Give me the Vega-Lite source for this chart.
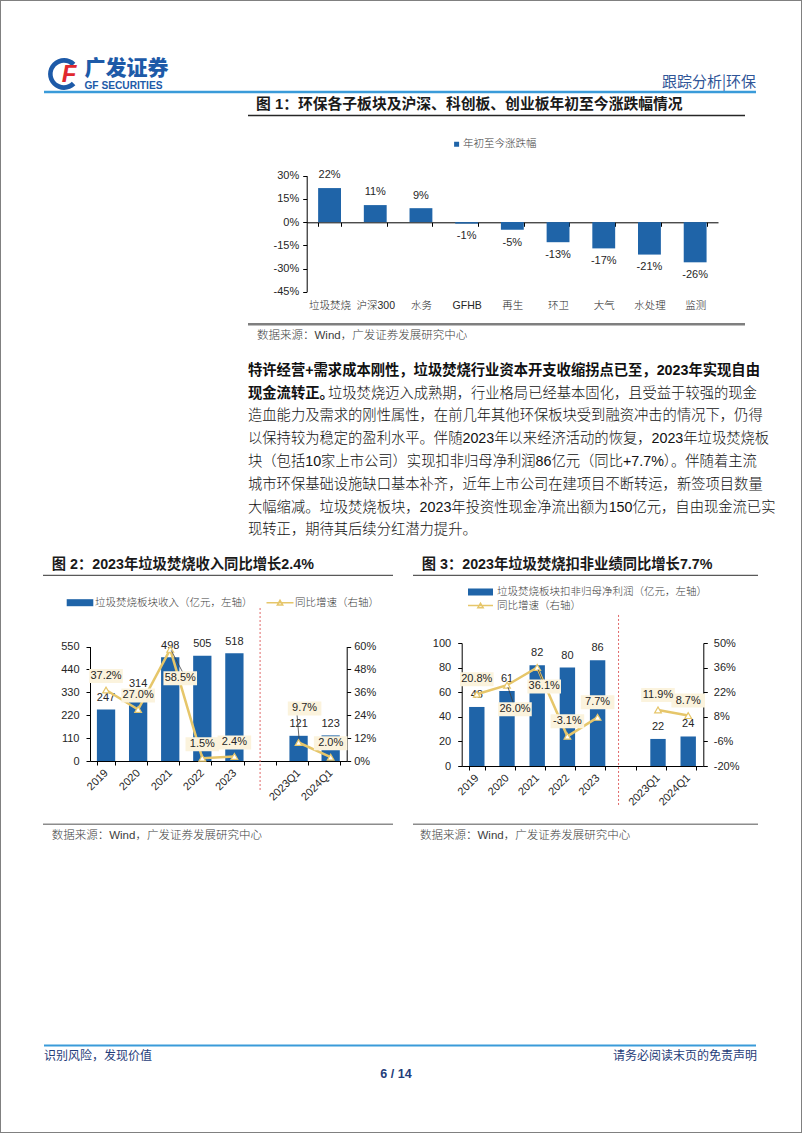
{
"$schema": "https://vega.github.io/schema/vega-lite/v6.json",
"width": 802,
"height": 1133,
"autosize": {"type": "none"},
"padding": 0,
"background": "#ffffff",
"config": {
  "view": {"stroke": "#808080", "strokeWidth": 2},
  "locale": {"number": {"decimal": ".", "thousands": ",", "grouping": [3], "currency": ["", ""], "minus": "-"}},
  "axis": {"domainColor": "#000000", "tickColor": "#000000", "labelColor": "#262626", "labelFont": "Liberation Sans", "labelFontSize": 11, "grid": false},
  "legend": {"padding": 0, "labelFont": "Noto Sans CJK SC", "labelFontSize": 10.5, "labelFontWeight": 300, "labelColor": "#404040", "labelLimit": 500}
},
"datasets": {
  "c1": [
    {"cat": "垃圾焚烧", "v": 0.22}, {"cat": "沪深300", "v": 0.11}, {"cat": "水务", "v": 0.09},
    {"cat": "GFHB", "v": -0.01}, {"cat": "再生", "v": -0.05}, {"cat": "环卫", "v": -0.13},
    {"cat": "大气", "v": -0.17}, {"cat": "水处理", "v": -0.21}, {"cat": "监测", "v": -0.26}],
  "c2": [
    {"p": "2019", "rev": 247, "yoy": 0.372, "g": "年度"},
    {"p": "2020", "rev": 314, "yoy": 0.270, "g": "年度"},
    {"p": "2021", "rev": 498, "yoy": 0.585, "g": "年度"},
    {"p": "2022", "rev": 505, "yoy": 0.015, "g": "年度"},
    {"p": "2023", "rev": 518, "yoy": 0.024, "g": "年度"},
    {"p": "2023Q1", "rev": 121, "yoy": 0.097, "g": "季度"},
    {"p": "2024Q1", "rev": 123, "yoy": 0.020, "g": "季度"}],
  "c3": [
    {"p": "2019", "np": 48, "yoy": 0.208, "g": "年度"},
    {"p": "2020", "np": 61, "yoy": 0.260, "g": "年度"},
    {"p": "2021", "np": 82, "yoy": 0.361, "g": "年度"},
    {"p": "2022", "np": 80, "yoy": -0.031, "g": "年度"},
    {"p": "2023", "np": 86, "yoy": 0.077, "g": "年度"},
    {"p": "2023Q1", "np": 22, "yoy": 0.119, "g": "季度"},
    {"p": "2024Q1", "np": 24, "yoy": 0.087, "g": "季度"}],
  "para": [
    {"line": 1, "seg": 1, "text": "特许经营+需求成本刚性，垃圾焚烧行业资本开支收缩拐点已至，2023年实现自由"},
    {"line": 2, "seg": 1, "text": "现金流转正。"},
    {"line": 2, "seg": 2, "text": "垃圾焚烧迈入成熟期，行业格局已经基本固化，且受益于较强的现金"},
    {"line": 3, "seg": 2, "text": "造血能力及需求的刚性属性，在前几年其他环保板块受到融资冲击的情况下，仍得"},
    {"line": 4, "seg": 2, "text": "以保持较为稳定的盈利水平。伴随2023年以来经济活动的恢复，2023年垃圾焚烧板"},
    {"line": 5, "seg": 2, "text": "块（包括10家上市公司）实现扣非归母净利润86亿元（同比+7.7%）。伴随着主流"},
    {"line": 6, "seg": 2, "text": "城市环保基础设施缺口基本补齐，近年上市公司在建项目不断转运，新签项目数量"},
    {"line": 7, "seg": 2, "text": "大幅缩减。垃圾焚烧板块，2023年投资性现金净流出额为150亿元，自由现金流已实"},
    {"line": 8, "seg": 2, "text": "现转正，期待其后续分红潜力提升。"}]
},
"layer": [
  {"data": {"values": [{"k": "logo"}]}, "mark": {"type": "point", "shape": "M0.71,-0.71A1,1,0,1,0,0.71,0.71L0.49,0.49A0.7,0.7,0,1,1,0.49,-0.49Z", "filled": true, "fill": "#1D5AA8", "strokeWidth": 0, "size": 1024, "opacity": 1}, "encoding": {"x": {"value": 64}, "y": {"value": 74}}},
  {"data": {"values": [{"t": "F"}]}, "mark": {"type": "text", "align": "center", "baseline": "middle", "font": "Liberation Sans", "fontSize": 24, "fontWeight": "bold", "fontStyle": "italic", "color": "#E0282E"}, "encoding": {"x": {"value": 69}, "y": {"value": 75}, "text": {"field": "t", "type": "nominal"}}},
  {"data": {"values": [{"t": "广发证券"}]}, "mark": {"type": "text", "align": "left", "baseline": "middle", "font": "Noto Sans CJK SC", "fontSize": 21, "fontWeight": 900, "color": "#1D5AA8"}, "encoding": {"x": {"value": 84.4}, "y": {"value": 69}, "text": {"field": "t", "type": "nominal"}}},
  {"data": {"values": [{"t": "GF SECURITIES"}]}, "mark": {"type": "text", "align": "left", "baseline": "middle", "font": "Liberation Sans", "fontSize": 10.2, "fontWeight": "bold", "color": "#1D5AA8"}, "encoding": {"x": {"value": 84.4}, "y": {"value": 86}, "text": {"field": "t", "type": "nominal"}}},
  {"data": {"values": [{"t": "跟踪分析|环保"}]}, "mark": {"type": "text", "align": "right", "baseline": "middle", "font": "Noto Sans CJK SC", "fontSize": 15, "color": "#2F5597"}, "encoding": {"x": {"value": 756}, "y": {"value": 81.7}, "text": {"field": "t", "type": "nominal"}}},
  {"data": {"values": [{}]}, "mark": {"type": "rule", "color": "#3A9BD9", "strokeWidth": 2.5}, "encoding": {"x": {"value": 44}, "x2": {"value": 756}, "y": {"value": 92}}},

  {"data": {"values": [{"t": "图 1：环保各子板块及沪深、科创板、创业板年初至今涨跌幅情况"}]}, "mark": {"type": "text", "align": "left", "baseline": "middle", "font": "Liberation Sans, Noto Sans CJK SC", "fontSize": 14.8, "fontWeight": "bold", "color": "#1a1a1a"}, "encoding": {"x": {"value": 256}, "y": {"value": 104.5}, "text": {"field": "t", "type": "nominal"}}},
  {"data": {"values": [{}]}, "mark": {"type": "rule", "color": "#262626", "strokeWidth": 1.3}, "encoding": {"x": {"value": 248}, "x2": {"value": 745}, "y": {"value": 115.5}}},
  {"data": {"values": [{}]}, "mark": {"type": "rule", "color": "#7F7F7F", "strokeWidth": 2.5}, "encoding": {"x": {"value": 248}, "x2": {"value": 745}, "y": {"value": 324.3}}},
  {"data": {"values": [{"t": "数据来源：Wind，广发证券发展研究中心"}]}, "mark": {"type": "text", "align": "left", "baseline": "middle", "font": "Liberation Sans, Noto Sans CJK SC", "fontSize": 11.5, "fontWeight": 300, "color": "#404040"}, "encoding": {"x": {"value": 257}, "y": {"value": 336.4}, "text": {"field": "t", "type": "nominal"}}},

  {"data": {"name": "c1"}, "mark": {"type": "bar", "color": "#1F64A8"},
   "encoding": {
    "x": {"field": "cat", "type": "nominal", "scale": {"domain": ["垃圾焚烧","沪深300","水务","GFHB","再生","环卫","大气","水处理","监测"], "range": [306.7, 718], "paddingInner": 0.5, "paddingOuter": 0.25}, "axis": null},
    "y": {"field": "v", "type": "quantitative", "scale": {"domain": [-0.45, 0.3], "range": [291.7, 175.7], "nice": false, "zero": false}, "axis": null},
    "y2": {"datum": 0},
    "color": {"datum": "年初至今涨跌幅", "type": "nominal", "scale": {"range": ["#1F64A8"]}, "legend": {"orient": "none", "legendX": 451.35, "legendY": 139, "title": null, "symbolType": "square", "symbolSize": 25, "symbolStrokeWidth": 0, "labelOffset": 1.2}}
   }},
  {"data": {"name": "c1"}, "transform": [{"filter": "datum.v >= 0"}],
   "mark": {"type": "text", "dy": -12.6, "baseline": "middle", "font": "Liberation Sans", "fontSize": 11, "color": "#262626"},
   "encoding": {
    "x": {"field": "cat", "type": "nominal", "scale": {"domain": ["垃圾焚烧","沪深300","水务","GFHB","再生","环卫","大气","水处理","监测"], "range": [306.7, 718], "paddingInner": 0.5, "paddingOuter": 0.25}, "axis": {"orient": "bottom", "offset": -835, "labels": true, "ticks": false, "tickSize": 0, "domain": false, "labelPadding": 2, "labelAngle": 0, "labelFont": "Liberation Sans, Noto Sans CJK SC", "labelFontSize": 10.5, "labelFontWeight": 300, "title": null}},
    "y": {"field": "v", "type": "quantitative", "scale": {"domain": [-0.45, 0.3], "range": [291.7, 175.7], "nice": false, "zero": false}, "axis": {"orient": "left", "offset": -306.7, "values": [-0.45, -0.3, -0.15, 0, 0.15, 0.3], "format": ".0%", "tickSize": 4, "labelPadding": 4, "title": null}},
    "text": {"field": "v", "type": "quantitative", "format": ".0%"}
   }},
  {"data": {"name": "c1"}, "transform": [{"filter": "datum.v < 0"}],
   "mark": {"type": "text", "dy": 12.8, "baseline": "middle", "font": "Liberation Sans", "fontSize": 11, "color": "#262626"},
   "encoding": {
    "x": {"field": "cat", "type": "nominal", "scale": {"domain": ["垃圾焚烧","沪深300","水务","GFHB","再生","环卫","大气","水处理","监测"], "range": [306.7, 718], "paddingInner": 0.5, "paddingOuter": 0.25}, "axis": {"orient": "bottom", "offset": -910.7, "labels": false, "ticks": true, "tickSize": 4, "tickBand": "extent", "domain": true, "title": null}},
    "y": {"field": "v", "type": "quantitative", "scale": {"domain": [-0.45, 0.3], "range": [291.7, 175.7], "nice": false, "zero": false}, "axis": null},
    "text": {"field": "v", "type": "quantitative", "format": ".0%"}
   }},

  {"data": {"name": "para"}, "transform": [{"filter": "datum.seg == 1"}], "mark": {"type": "text", "align": "left", "baseline": "middle", "font": "Liberation Sans, Noto Sans CJK SC", "fontSize": 14.3, "fontWeight": "bold", "color": "#111111"},
   "encoding": {"x": {"value": 248}, "y": {"field": "line", "type": "quantitative", "scale": {"domain": [1, 8], "range": [370.7, 530.3], "nice": false, "zero": false}, "axis": null}, "text": {"field": "text", "type": "nominal"}}},
  {"data": {"name": "para"}, "transform": [{"filter": "datum.seg == 2 && datum.line > 2"}], "mark": {"type": "text", "align": "left", "baseline": "middle", "font": "Liberation Sans, Noto Sans CJK SC", "fontSize": 14.3, "fontWeight": 300, "color": "#111111"},
   "encoding": {"x": {"value": 248}, "y": {"field": "line", "type": "quantitative", "scale": {"domain": [1, 8], "range": [370.7, 530.3], "nice": false, "zero": false}, "axis": null}, "text": {"field": "text", "type": "nominal"}}},
  {"data": {"name": "para"}, "transform": [{"filter": "datum.seg == 2 && datum.line == 2"}], "mark": {"type": "text", "align": "left", "baseline": "middle", "font": "Liberation Sans, Noto Sans CJK SC", "fontSize": 14.3, "fontWeight": 300, "color": "#111111"},
   "encoding": {"x": {"value": 328}, "y": {"field": "line", "type": "quantitative", "scale": {"domain": [1, 8], "range": [370.7, 530.3], "nice": false, "zero": false}, "axis": null}, "text": {"field": "text", "type": "nominal"}}},

  {"data": {"values": [{"t": "图 2：2023年垃圾焚烧收入同比增长2.4%"}]}, "mark": {"type": "text", "align": "left", "baseline": "middle", "font": "Liberation Sans, Noto Sans CJK SC", "fontSize": 14.3, "fontWeight": "bold", "color": "#1a1a1a"}, "encoding": {"x": {"value": 51.7}, "y": {"value": 565}, "text": {"field": "t", "type": "nominal"}}},
  {"data": {"values": [{}]}, "mark": {"type": "rule", "color": "#595959", "strokeWidth": 1.3}, "encoding": {"x": {"value": 43}, "x2": {"value": 393}, "y": {"value": 575.3}}},
  {"data": {"values": [{}]}, "mark": {"type": "rule", "color": "#8C8C8C", "strokeWidth": 1.5}, "encoding": {"x": {"value": 43}, "x2": {"value": 393}, "y": {"value": 824.3}}},
  {"data": {"values": [{"t": "数据来源：Wind，广发证券发展研究中心"}]}, "mark": {"type": "text", "align": "left", "baseline": "middle", "font": "Liberation Sans, Noto Sans CJK SC", "fontSize": 11.5, "fontWeight": 300, "color": "#404040"}, "encoding": {"x": {"value": 51.7}, "y": {"value": 835.7}, "text": {"field": "t", "type": "nominal"}}},

  {"data": {"name": "c2"}, "mark": {"type": "bar", "color": "#1F64A8"},
   "encoding": {
    "x": {"field": "p", "type": "nominal", "scale": {"domain": ["2019","2020","2021","2022","2023","gap","2023Q1","2024Q1"], "range": [90, 346.7], "paddingInner": 0.43, "paddingOuter": 0.215}, "axis": null},
    "y": {"field": "rev", "type": "quantitative", "scale": {"domain": [0, 550], "range": [761, 646.5], "nice": false, "zero": false}, "axis": null},
    "y2": {"datum": 0},
    "color": {"datum": "垃圾焚烧板块收入（亿元，左轴）", "type": "nominal", "scale": {"range": ["#1F64A8"]}, "legend": {"orient": "none", "legendX": 73, "legendY": 595.7, "title": null, "symbolType": "M-1.97,-0.52H1.97V0.52H-1.97Z", "symbolSize": 182.25, "symbolStrokeWidth": 0, "labelOffset": 8}}
   }},
  {"data": {"name": "c2"}, "mark": {"type": "text", "dy": -11.5, "baseline": "middle", "font": "Liberation Sans", "fontSize": 11, "color": "#262626"},
   "encoding": {
    "x": {"field": "p", "type": "nominal", "scale": {"domain": ["2019","2020","2021","2022","2023","gap","2023Q1","2024Q1"], "range": [90, 346.7], "paddingInner": 0.43, "paddingOuter": 0.215}, "axis": {"orient": "bottom", "offset": -372, "tickBand": "extent", "tickSize": 4, "labelAngle": -45, "labelAlign": "right", "labelBaseline": "middle", "labelPadding": 6, "labelExpr": "datum.label == 'gap' ? '' : datum.label", "labelOverlap": false, "title": null}},
    "y": {"field": "rev", "type": "quantitative", "scale": {"domain": [0, 550], "range": [761, 646.5], "nice": false, "zero": false}, "axis": {"orient": "left", "offset": -90, "values": [0, 110, 220, 330, 440, 550], "tickSize": 4, "labelPadding": 7, "title": null}},
    "text": {"field": "rev", "type": "quantitative", "format": "d"}}},
  {"data": {"values": [{"k": "divider"}]},
   "mark": {"type": "rule", "color": "#E06666", "strokeDash": [2, 2], "strokeWidth": 1},
   "encoding": {
    "x": {"datum": "gap", "type": "nominal", "bandPosition": 0.15, "scale": {"domain": ["2019","2020","2021","2022","2023","gap","2023Q1","2024Q1"], "range": [90, 346.7], "paddingInner": 0.43, "paddingOuter": 0.215}, "axis": null},
    "y": {"datum": 735, "type": "quantitative", "scale": {"domain": [0, 550], "range": [761, 646.5], "nice": false, "zero": false}, "axis": null},
    "y2": {"datum": -139}}},
  {"data": {"name": "c2"}, "mark": {"type": "line", "color": "#E6C66A", "strokeWidth": 2.5},
   "encoding": {
    "x": {"field": "p", "type": "nominal", "scale": {"domain": ["2019","2020","2021","2022","2023","gap","2023Q1","2024Q1"], "range": [90, 346.7], "paddingInner": 0.43, "paddingOuter": 0.215}, "axis": null},
    "y": {"field": "yoy", "type": "quantitative", "scale": {"domain": [0, 0.6], "range": [761, 646.5], "nice": false, "zero": false}, "axis": null},
    "detail": {"field": "g", "type": "nominal"},
    "stroke": {"datum": "同比增速（右轴）", "type": "nominal", "scale": {"range": ["#E6C66A"]}, "legend": {"orient": "none", "legendX": 272.5, "legendY": 595.2, "title": null, "symbolType": "M-2,0H2M-0.4,0.35L0,-0.35L0.4,0.35Z", "symbolSize": 182.25, "symbolStrokeWidth": 1.5, "labelOffset": 7.5, "encode": {"symbols": {"update": {"fill": {"value": "#ffffff"}}}}}}
   }},
  {"data": {"name": "c2"}, "mark": {"type": "point", "shape": "triangle-up", "filled": true, "fill": "#ffffff", "stroke": "#E6C66A", "strokeWidth": 1.2, "size": 45, "opacity": 1},
   "encoding": {
    "x": {"field": "p", "type": "nominal", "scale": {"domain": ["2019","2020","2021","2022","2023","gap","2023Q1","2024Q1"], "range": [90, 346.7], "paddingInner": 0.43, "paddingOuter": 0.215}, "axis": null},
    "y": {"field": "yoy", "type": "quantitative", "scale": {"domain": [0, 0.6], "range": [761, 646.5], "nice": false, "zero": false}, "axis": {"orient": "right", "offset": -455.3, "values": [0, 0.12, 0.24, 0.36, 0.48, 0.6], "format": ".0%", "tickSize": 4, "labelPadding": 3, "title": null}}}},
  {"data": {"name": "c2"}, "transform": [{"filter": {"field": "p", "oneOf": ["2019", "2020", "2022", "2023", "2024Q1"]}}],
   "mark": {"type": "point", "shape": "M-2.4,-3H2.4V-1H-2.4Z", "filled": true, "fill": "#FBF3DD", "strokeWidth": 0, "size": 196, "opacity": 1},
   "encoding": {
    "x": {"field": "p", "type": "nominal", "scale": {"domain": ["2019","2020","2021","2022","2023","gap","2023Q1","2024Q1"], "range": [90, 346.7], "paddingInner": 0.43, "paddingOuter": 0.215}, "axis": null},
    "y": {"field": "yoy", "type": "quantitative", "scale": {"domain": [0, 0.6], "range": [761, 646.5], "nice": false, "zero": false}, "axis": null}}},
  {"data": {"name": "c2"}, "transform": [{"filter": {"field": "p", "oneOf": ["2019", "2020", "2022", "2023", "2024Q1"]}}],
   "mark": {"type": "text", "dy": -14, "baseline": "middle", "font": "Liberation Sans", "fontSize": 11, "color": "#262626"},
   "encoding": {
    "x": {"field": "p", "type": "nominal", "scale": {"domain": ["2019","2020","2021","2022","2023","gap","2023Q1","2024Q1"], "range": [90, 346.7], "paddingInner": 0.43, "paddingOuter": 0.215}, "axis": null},
    "y": {"field": "yoy", "type": "quantitative", "scale": {"domain": [0, 0.6], "range": [761, 646.5], "nice": false, "zero": false}, "axis": null},
    "text": {"field": "yoy", "type": "quantitative", "format": ".1%"}}},
  {"data": {"name": "c2"}, "transform": [{"filter": "datum.p == '2021'"}],
   "mark": {"type": "point", "shape": "M-0.97,3.14H3.83V5.14H-0.97Z", "filled": true, "fill": "#FBF3DD", "strokeWidth": 0, "size": 196, "opacity": 1},
   "encoding": {
    "x": {"field": "p", "type": "nominal", "scale": {"domain": ["2019","2020","2021","2022","2023","gap","2023Q1","2024Q1"], "range": [90, 346.7], "paddingInner": 0.43, "paddingOuter": 0.215}, "axis": null},
    "y": {"field": "yoy", "type": "quantitative", "scale": {"domain": [0, 0.6], "range": [761, 646.5], "nice": false, "zero": false}, "axis": null}}},
  {"data": {"name": "c2"}, "transform": [{"filter": "datum.p == '2021'"}],
   "mark": {"type": "text", "dx": 10, "dy": 29, "baseline": "middle", "font": "Liberation Sans", "fontSize": 11, "color": "#262626"},
   "encoding": {
    "x": {"field": "p", "type": "nominal", "scale": {"domain": ["2019","2020","2021","2022","2023","gap","2023Q1","2024Q1"], "range": [90, 346.7], "paddingInner": 0.43, "paddingOuter": 0.215}, "axis": null},
    "y": {"field": "yoy", "type": "quantitative", "scale": {"domain": [0, 0.6], "range": [761, 646.5], "nice": false, "zero": false}, "axis": null},
    "text": {"field": "yoy", "type": "quantitative", "format": ".1%"}}},
  {"data": {"name": "c2"}, "transform": [{"filter": "datum.p == '2021'"}],
   "mark": {"type": "point", "shape": "M0.14,0.14L1.71,3.14", "filled": false, "stroke": "#404040", "strokeWidth": 0.8, "size": 196, "opacity": 1},
   "encoding": {
    "x": {"field": "p", "type": "nominal", "scale": {"domain": ["2019","2020","2021","2022","2023","gap","2023Q1","2024Q1"], "range": [90, 346.7], "paddingInner": 0.43, "paddingOuter": 0.215}, "axis": null},
    "y": {"field": "yoy", "type": "quantitative", "scale": {"domain": [0, 0.6], "range": [761, 646.5], "nice": false, "zero": false}, "axis": null}}},
  {"data": {"name": "c2"}, "transform": [{"filter": "datum.p == '2023Q1'"}],
   "mark": {"type": "point", "shape": "M-1.54,-5.86H3.26V-3.86H-1.54Z", "filled": true, "fill": "#FBF3DD", "strokeWidth": 0, "size": 196, "opacity": 1},
   "encoding": {
    "x": {"field": "p", "type": "nominal", "scale": {"domain": ["2019","2020","2021","2022","2023","gap","2023Q1","2024Q1"], "range": [90, 346.7], "paddingInner": 0.43, "paddingOuter": 0.215}, "axis": null},
    "y": {"field": "yoy", "type": "quantitative", "scale": {"domain": [0, 0.6], "range": [761, 646.5], "nice": false, "zero": false}, "axis": null}}},
  {"data": {"name": "c2"}, "transform": [{"filter": "datum.p == '2023Q1'"}],
   "mark": {"type": "text", "dx": 6, "dy": -34, "baseline": "middle", "font": "Liberation Sans", "fontSize": 11, "color": "#262626"},
   "encoding": {
    "x": {"field": "p", "type": "nominal", "scale": {"domain": ["2019","2020","2021","2022","2023","gap","2023Q1","2024Q1"], "range": [90, 346.7], "paddingInner": 0.43, "paddingOuter": 0.215}, "axis": null},
    "y": {"field": "yoy", "type": "quantitative", "scale": {"domain": [0, 0.6], "range": [761, 646.5], "nice": false, "zero": false}, "axis": null},
    "text": {"field": "yoy", "type": "quantitative", "format": ".1%"}}},
  {"data": {"name": "c2"}, "transform": [{"filter": "datum.p == '2023Q1'"}],
   "mark": {"type": "point", "shape": "M-0.21,-3.86L0.07,-0.57", "filled": false, "stroke": "#404040", "strokeWidth": 0.8, "size": 196, "opacity": 1},
   "encoding": {
    "x": {"field": "p", "type": "nominal", "scale": {"domain": ["2019","2020","2021","2022","2023","gap","2023Q1","2024Q1"], "range": [90, 346.7], "paddingInner": 0.43, "paddingOuter": 0.215}, "axis": null},
    "y": {"field": "yoy", "type": "quantitative", "scale": {"domain": [0, 0.6], "range": [761, 646.5], "nice": false, "zero": false}, "axis": null}}},

  {"data": {"values": [{"t": "图 3：2023年垃圾焚烧扣非业绩同比增长7.7%"}]}, "mark": {"type": "text", "align": "left", "baseline": "middle", "font": "Liberation Sans, Noto Sans CJK SC", "fontSize": 14.3, "fontWeight": "bold", "color": "#1a1a1a"}, "encoding": {"x": {"value": 421.7}, "y": {"value": 565}, "text": {"field": "t", "type": "nominal"}}},
  {"data": {"values": [{}]}, "mark": {"type": "rule", "color": "#595959", "strokeWidth": 1.3}, "encoding": {"x": {"value": 413}, "x2": {"value": 758}, "y": {"value": 575.3}}},
  {"data": {"values": [{}]}, "mark": {"type": "rule", "color": "#8C8C8C", "strokeWidth": 1.5}, "encoding": {"x": {"value": 413}, "x2": {"value": 758}, "y": {"value": 824.3}}},
  {"data": {"values": [{"t": "数据来源：Wind，广发证券发展研究中心"}]}, "mark": {"type": "text", "align": "left", "baseline": "middle", "font": "Liberation Sans, Noto Sans CJK SC", "fontSize": 11.5, "fontWeight": 300, "color": "#404040"}, "encoding": {"x": {"value": 420}, "y": {"value": 835.7}, "text": {"field": "t", "type": "nominal"}}},

  {"data": {"name": "c3"}, "mark": {"type": "bar", "color": "#1F64A8"},
   "encoding": {
    "x": {"field": "p", "type": "nominal", "scale": {"domain": ["2019","2020","2021","2022","2023","gap","2023Q1","2024Q1"], "range": [461.7, 703.3], "paddingInner": 0.49, "paddingOuter": 0.245}, "axis": null},
    "y": {"field": "np", "type": "quantitative", "scale": {"domain": [0, 100], "range": [766, 643], "nice": false, "zero": false}, "axis": null},
    "y2": {"datum": 0},
    "color": {"datum": "垃圾焚烧板块扣非归母净利润（亿元，左轴）", "type": "nominal", "scale": {"range": ["#1F64A8"]}, "legend": {"orient": "none", "legendX": 473.5, "legendY": 585, "title": null, "symbolType": "M-1.85,-0.52H1.85V0.52H-1.85Z", "symbolSize": 182.25, "symbolStrokeWidth": 0, "labelOffset": 9.5}}
   }},
  {"data": {"name": "c3"}, "mark": {"type": "text", "dy": -12, "baseline": "middle", "font": "Liberation Sans", "fontSize": 11, "color": "#262626"},
   "encoding": {
    "x": {"field": "p", "type": "nominal", "scale": {"domain": ["2019","2020","2021","2022","2023","gap","2023Q1","2024Q1"], "range": [461.7, 703.3], "paddingInner": 0.49, "paddingOuter": 0.245}, "axis": {"orient": "bottom", "offset": -367, "tickBand": "extent", "tickSize": 4, "labelAngle": -45, "labelAlign": "right", "labelBaseline": "middle", "labelPadding": 6, "labelExpr": "datum.label == 'gap' ? '' : datum.label", "labelOverlap": false, "title": null}},
    "y": {"field": "np", "type": "quantitative", "scale": {"domain": [0, 100], "range": [766, 643], "nice": false, "zero": false}, "axis": {"orient": "left", "offset": -461.7, "values": [0, 20, 40, 60, 80, 100], "tickSize": 4, "labelPadding": 7, "title": null}},
    "text": {"field": "np", "type": "quantitative", "format": "d"}}},
  {"data": {"values": [{"k": "divider"}]},
   "mark": {"type": "rule", "color": "#E06666", "strokeDash": [2, 2], "strokeWidth": 1},
   "encoding": {
    "x": {"datum": "gap", "type": "nominal", "bandPosition": -0.1, "scale": {"domain": ["2019","2020","2021","2022","2023","gap","2023Q1","2024Q1"], "range": [461.7, 703.3], "paddingInner": 0.49, "paddingOuter": 0.245}, "axis": null},
    "y": {"datum": 122.8, "type": "quantitative", "scale": {"domain": [0, 100], "range": [766, 643], "nice": false, "zero": false}, "axis": null},
    "y2": {"datum": -31.7}}},
  {"data": {"name": "c3"}, "mark": {"type": "line", "color": "#E6C66A", "strokeWidth": 2.5},
   "encoding": {
    "x": {"field": "p", "type": "nominal", "scale": {"domain": ["2019","2020","2021","2022","2023","gap","2023Q1","2024Q1"], "range": [461.7, 703.3], "paddingInner": 0.49, "paddingOuter": 0.245}, "axis": null},
    "y": {"field": "yoy", "type": "quantitative", "scale": {"domain": [-0.2, 0.5], "range": [766, 643], "nice": false, "zero": false}, "axis": null},
    "detail": {"field": "g", "type": "nominal"},
    "stroke": {"datum": "同比增速（右轴）", "type": "nominal", "scale": {"range": ["#E6C66A"]}, "legend": {"orient": "none", "legendX": 473, "legendY": 598, "title": null, "symbolType": "M-1.85,0H1.85M-0.4,0.35L0,-0.35L0.4,0.35Z", "symbolSize": 182.25, "symbolStrokeWidth": 1.5, "labelOffset": 9, "encode": {"symbols": {"update": {"fill": {"value": "#ffffff"}}}}}}
   }},
  {"data": {"name": "c3"}, "mark": {"type": "point", "shape": "triangle-up", "filled": true, "fill": "#ffffff", "stroke": "#E6C66A", "strokeWidth": 1.2, "size": 45, "opacity": 1},
   "encoding": {
    "x": {"field": "p", "type": "nominal", "scale": {"domain": ["2019","2020","2021","2022","2023","gap","2023Q1","2024Q1"], "range": [461.7, 703.3], "paddingInner": 0.49, "paddingOuter": 0.245}, "axis": null},
    "y": {"field": "yoy", "type": "quantitative", "scale": {"domain": [-0.2, 0.5], "range": [766, 643], "nice": false, "zero": false}, "axis": {"orient": "right", "offset": -98.7, "values": [-0.2, -0.06, 0.08, 0.22, 0.36, 0.5], "format": ".0%", "tickSize": 4, "labelPadding": 6, "title": null}}}},
  {"data": {"name": "c3"}, "transform": [{"filter": {"field": "p", "oneOf": ["2019", "2022", "2023", "2023Q1", "2024Q1"]}}],
   "mark": {"type": "point", "shape": "M-2.4,-3.14H2.4V-1.14H-2.4Z", "filled": true, "fill": "#FBF3DD", "strokeWidth": 0, "size": 196, "opacity": 1},
   "encoding": {
    "x": {"field": "p", "type": "nominal", "scale": {"domain": ["2019","2020","2021","2022","2023","gap","2023Q1","2024Q1"], "range": [461.7, 703.3], "paddingInner": 0.49, "paddingOuter": 0.245}, "axis": null},
    "y": {"field": "yoy", "type": "quantitative", "scale": {"domain": [-0.2, 0.5], "range": [766, 643], "nice": false, "zero": false}, "axis": null}}},
  {"data": {"name": "c3"}, "transform": [{"filter": {"field": "p", "oneOf": ["2019", "2022", "2023", "2023Q1", "2024Q1"]}}],
   "mark": {"type": "text", "dy": -15, "baseline": "middle", "font": "Liberation Sans", "fontSize": 11, "color": "#262626"},
   "encoding": {
    "x": {"field": "p", "type": "nominal", "scale": {"domain": ["2019","2020","2021","2022","2023","gap","2023Q1","2024Q1"], "range": [461.7, 703.3], "paddingInner": 0.49, "paddingOuter": 0.245}, "axis": null},
    "y": {"field": "yoy", "type": "quantitative", "scale": {"domain": [-0.2, 0.5], "range": [766, 643], "nice": false, "zero": false}, "axis": null},
    "text": {"field": "yoy", "type": "quantitative", "format": ".1%"}}},
  {"data": {"name": "c3"}, "transform": [{"filter": "datum.p == '2020'"}],
   "mark": {"type": "point", "shape": "M-1.26,2.43H3.54V4.43H-1.26Z", "filled": true, "fill": "#FBF3DD", "strokeWidth": 0, "size": 196, "opacity": 1},
   "encoding": {
    "x": {"field": "p", "type": "nominal", "scale": {"domain": ["2019","2020","2021","2022","2023","gap","2023Q1","2024Q1"], "range": [461.7, 703.3], "paddingInner": 0.49, "paddingOuter": 0.245}, "axis": null},
    "y": {"field": "yoy", "type": "quantitative", "scale": {"domain": [-0.2, 0.5], "range": [766, 643], "nice": false, "zero": false}, "axis": null}}},
  {"data": {"name": "c3"}, "transform": [{"filter": "datum.p == '2020'"}],
   "mark": {"type": "text", "dx": 8, "dy": 24, "baseline": "middle", "font": "Liberation Sans", "fontSize": 11, "color": "#262626"},
   "encoding": {
    "x": {"field": "p", "type": "nominal", "scale": {"domain": ["2019","2020","2021","2022","2023","gap","2023Q1","2024Q1"], "range": [461.7, 703.3], "paddingInner": 0.49, "paddingOuter": 0.245}, "axis": null},
    "y": {"field": "yoy", "type": "quantitative", "scale": {"domain": [-0.2, 0.5], "range": [766, 643], "nice": false, "zero": false}, "axis": null},
    "text": {"field": "yoy", "type": "quantitative", "format": ".1%"}}},
  {"data": {"name": "c3"}, "transform": [{"filter": "datum.p == '2020'"}],
   "mark": {"type": "point", "shape": "M0.14,0.29L0.86,2.43", "filled": false, "stroke": "#404040", "strokeWidth": 0.8, "size": 196, "opacity": 1},
   "encoding": {
    "x": {"field": "p", "type": "nominal", "scale": {"domain": ["2019","2020","2021","2022","2023","gap","2023Q1","2024Q1"], "range": [461.7, 703.3], "paddingInner": 0.49, "paddingOuter": 0.245}, "axis": null},
    "y": {"field": "yoy", "type": "quantitative", "scale": {"domain": [-0.2, 0.5], "range": [766, 643], "nice": false, "zero": false}, "axis": null}}},
  {"data": {"name": "c3"}, "transform": [{"filter": "datum.p == '2021'"}],
   "mark": {"type": "point", "shape": "M-1.4,1.71H3.4V3.71H-1.4Z", "filled": true, "fill": "#FBF3DD", "strokeWidth": 0, "size": 196, "opacity": 1},
   "encoding": {
    "x": {"field": "p", "type": "nominal", "scale": {"domain": ["2019","2020","2021","2022","2023","gap","2023Q1","2024Q1"], "range": [461.7, 703.3], "paddingInner": 0.49, "paddingOuter": 0.245}, "axis": null},
    "y": {"field": "yoy", "type": "quantitative", "scale": {"domain": [-0.2, 0.5], "range": [766, 643], "nice": false, "zero": false}, "axis": null}}},
  {"data": {"name": "c3"}, "transform": [{"filter": "datum.p == '2021'"}],
   "mark": {"type": "text", "dx": 7, "dy": 19, "baseline": "middle", "font": "Liberation Sans", "fontSize": 11, "color": "#262626"},
   "encoding": {
    "x": {"field": "p", "type": "nominal", "scale": {"domain": ["2019","2020","2021","2022","2023","gap","2023Q1","2024Q1"], "range": [461.7, 703.3], "paddingInner": 0.49, "paddingOuter": 0.245}, "axis": null},
    "y": {"field": "yoy", "type": "quantitative", "scale": {"domain": [-0.2, 0.5], "range": [766, 643], "nice": false, "zero": false}, "axis": null},
    "text": {"field": "yoy", "type": "quantitative", "format": ".1%"}}},
  {"data": {"name": "c3"}, "transform": [{"filter": "datum.p == '2021'"}],
   "mark": {"type": "point", "shape": "M0.14,0.29L0.71,1.71", "filled": false, "stroke": "#404040", "strokeWidth": 0.8, "size": 196, "opacity": 1},
   "encoding": {
    "x": {"field": "p", "type": "nominal", "scale": {"domain": ["2019","2020","2021","2022","2023","gap","2023Q1","2024Q1"], "range": [461.7, 703.3], "paddingInner": 0.49, "paddingOuter": 0.245}, "axis": null},
    "y": {"field": "yoy", "type": "quantitative", "scale": {"domain": [-0.2, 0.5], "range": [766, 643], "nice": false, "zero": false}, "axis": null}}},

  {"data": {"values": [{}]}, "mark": {"type": "rule", "color": "#3A9BD9", "strokeWidth": 2}, "encoding": {"x": {"value": 44}, "x2": {"value": 756}, "y": {"value": 1045.5}}},
  {"data": {"values": [{"t": "识别风险，发现价值"}]}, "mark": {"type": "text", "align": "left", "baseline": "middle", "font": "Noto Sans CJK SC", "fontSize": 12, "color": "#1F3D7A"}, "encoding": {"x": {"value": 44}, "y": {"value": 1055.5}, "text": {"field": "t", "type": "nominal"}}},
  {"data": {"values": [{"t": "请务必阅读末页的免责声明"}]}, "mark": {"type": "text", "align": "right", "baseline": "middle", "font": "Noto Sans CJK SC", "fontSize": 12, "color": "#1F3D7A"}, "encoding": {"x": {"value": 757}, "y": {"value": 1055.5}, "text": {"field": "t", "type": "nominal"}}},
  {"data": {"values": [{"t": "6 / 14"}]}, "mark": {"type": "text", "align": "center", "baseline": "middle", "font": "Liberation Sans", "fontSize": 12.5, "fontWeight": "bold", "color": "#1F3D7A"}, "encoding": {"x": {"value": 396}, "y": {"value": 1073.5}, "text": {"field": "t", "type": "nominal"}}}
],
"resolve": {
  "scale": {"x": "independent", "y": "independent", "color": "independent", "stroke": "independent"},
  "axis": {"x": "independent", "y": "independent"},
  "legend": {"color": "independent", "stroke": "independent"}
}
}
